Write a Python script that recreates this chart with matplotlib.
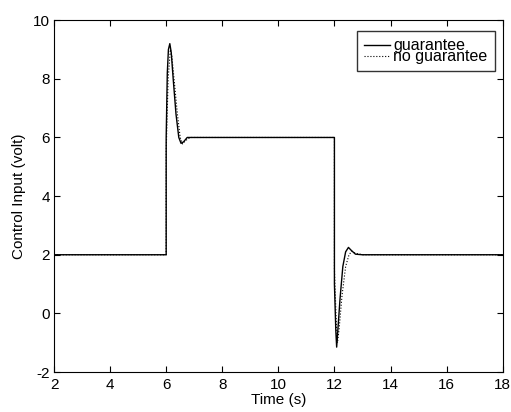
import matplotlib
matplotlib.use('Agg')
import matplotlib.pyplot as plt

plt.rcParams['font.family'] = ['Liberation Sans', 'DejaVu Sans']
plt.rcParams['axes.unicode_minus'] = False

# --- data (time in s, control input in volt) ---
t_guar = [2.0, 6.0, 6.0, 6.04, 6.08, 6.13, 6.18, 6.25, 6.35, 6.45, 6.53,
          6.62, 6.75, 6.9, 12.0, 12.0, 12.05, 12.08, 12.12, 12.2, 12.3,
          12.4, 12.5, 12.6, 12.75, 13.0, 18.0]
u_guar = [2.0, 2.0, 6.0, 8.2, 9.0, 9.2, 8.9, 8.0, 6.8, 6.0, 5.8,
          5.85, 6.0, 6.0, 6.0, 1.0, -0.6, -1.15, -0.6, 0.5, 1.6,
          2.1, 2.25, 2.15, 2.02, 2.0, 2.0]

t_noguar = [2.0, 6.0, 6.0, 6.07, 6.15, 6.2, 6.3, 6.4, 6.5, 6.58, 6.7,
            6.85, 12.0, 12.0, 12.07, 12.11, 12.17, 12.27, 12.4, 12.52,
            12.62, 12.75, 13.0, 18.0]
u_noguar = [2.0, 2.0, 5.5, 8.0, 9.0, 8.8, 7.8, 6.8, 6.0, 5.78, 5.9,
            6.0, 6.0, 1.5, -0.4, -1.0, -0.5, 0.6, 1.6, 2.0,
            2.12, 2.05, 2.0, 2.0]

x_ticks = [2, 4, 6, 8, 10, 12, 14, 16, 18]
y_ticks = [-2, 0, 2, 4, 6, 8, 10]

fig = plt.figure(figsize=(5.11, 4.12), dpi=100)
ax = fig.add_axes([0.1057, 0.097, 0.878, 0.854])

ax.plot(t_guar, u_guar, color='black', linewidth=1.0, label='guarantee')
ax.plot(t_noguar, u_noguar, color='black', linewidth=0.8, linestyle=':',
        label='no guarantee')

ax.set_xlim(2, 18)
ax.set_ylim(-2, 10)
ax.set_xticks(x_ticks)
ax.set_yticks(y_ticks)
ax.tick_params(direction='in', top=True, right=True, labelsize=11, length=4,
               width=0.8)
ax.tick_params(axis='x', pad=4)
ax.tick_params(axis='y', pad=3)
for s in ax.spines.values():
    s.set_linewidth(0.8)

ax.set_xlabel('Time (s)', fontsize=11, labelpad=1)
ax.set_ylabel('Control Input (volt)', fontsize=11, labelpad=5)

leg = ax.legend(loc='upper right', bbox_to_anchor=(0.982, 0.969), fontsize=11.5,
                frameon=True, fancybox=False, edgecolor='black',
                labelspacing=-0.25, handlelength=1.6, handletextpad=0.2,
                borderpad=0.45, borderaxespad=0)
leg.get_frame().set_linewidth(1.0)

plt.savefig('out.png', dpi=100)
